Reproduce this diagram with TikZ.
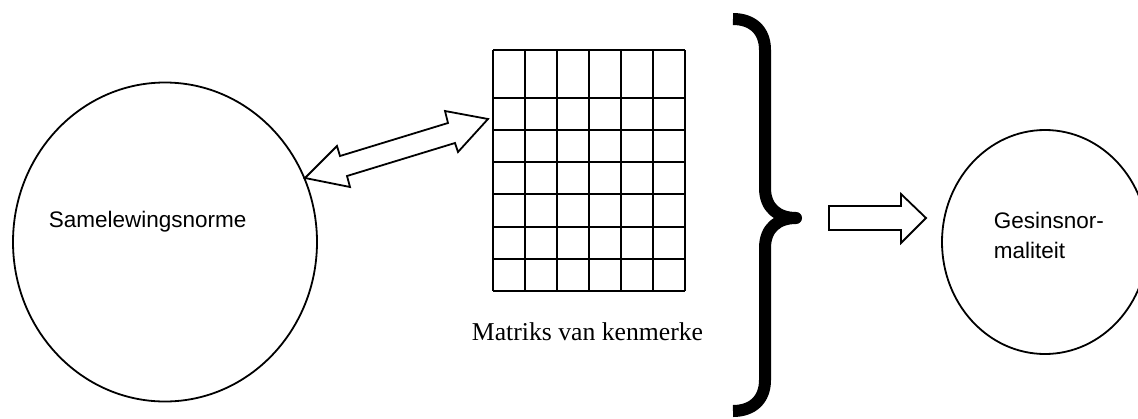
\documentclass[tikz,border=0pt]{standalone}
\usepackage{fontspec}
\setmainfont{Liberation Serif}
\setsansfont{Liberation Sans}
\usetikzlibrary{shapes.geometric}

\begin{document}
\begin{tikzpicture}[x=1pt,y=-1pt,line width=1.8pt]
      \useasboundingbox (0,0) rectangle (1138,418);
      \clip (0,0) rectangle (1138,418);
      % the two circles
      \node[draw,ellipse,inner sep=0,minimum width=304,minimum height=319] (norme) at (165,242) {};
      \node[draw,ellipse,inner sep=0,minimum width=206,minimum height=224] (gesin) at (1045,242) {};
      \node[font=\sffamily\fontsize{22.5}{30}\selectfont,anchor=base west,inner sep=0] (normetext) at (48,227.7) {Samelewingsnorme};
      \node[font=\sffamily\fontsize{22.5}{30}\selectfont,align=left,anchor=north west,inner sep=0] (gesintext) at (993,211.5) {Gesinsnor-\\maliteit};
      % the matrix
      \foreach \x in {493,525,...,685}
        \draw (\x,50) -- (\x,291);
      \foreach \y in {50,98,130,162,194,227,259,291}
        \draw (493,\y) -- (685,\y);
      \node[font=\fontsize{25.7}{30}\selectfont,anchor=base west,inner sep=0] (matrix) at (471,340) {Matriks van kenmerke};
      % arrows
      \draw[line join=miter] (305,178) -- (337,146) -- (340,156) -- (448,123) -- (445,111) -- (488,119)
        -- (458,152) -- (455,143) -- (347,176) -- (350,187) -- cycle;
      \draw[line join=miter] (829,206) -- (901,206) -- (901,194) -- (926,218) -- (901,243) -- (901,230) -- (829,230) -- cycle;
      % brace
      \draw[line width=12pt,line join=round] (733,19) .. controls (752,19) and (765,30) .. (765,50) -- (765,188)
        .. controls (765,208) and (778,218) .. (796,218) .. controls (778,218) and (765,228) .. (765,248)
        -- (765,380) .. controls (765,400) and (752,411) .. (733,411);
    \end{tikzpicture}
\end{document}
